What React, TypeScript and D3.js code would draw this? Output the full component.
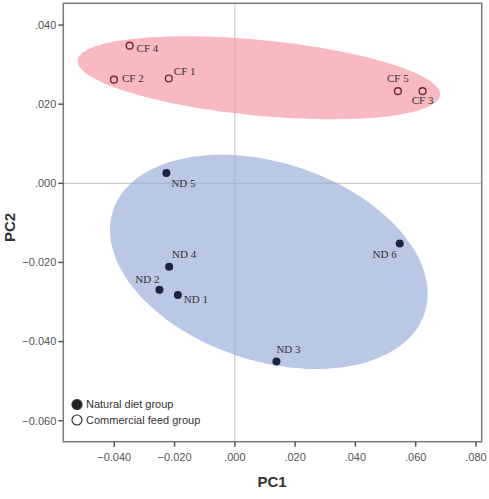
import React from 'react';
import * as d3 from 'd3';

// PCA scores for each sample
const ndNames = ['ND 1', 'ND 2', 'ND 3', 'ND 4', 'ND 5', 'ND 6'];
const ndPC1 = [-0.0189, -0.025, 0.0138, -0.0218, -0.0227, 0.0547];
const ndPC2 = [-0.0282, -0.0269, -0.045, -0.0211, 0.0026, -0.0152];

const cfNames = ['CF 1', 'CF 2', 'CF 3', 'CF 4', 'CF 5'];
const cfPC1 = [-0.0219, -0.0401, 0.0623, -0.0349, 0.0541];
const cfPC2 = [0.0265, 0.0262, 0.0233, 0.0348, 0.0233];

// group ellipses: centre plus two conjugate half-axes, in PC units
const ndEllipse = { c: [0.01128, -0.01985], u: [0.05168, -0.01295], v: [-0.01025, -0.02377] };
const cfEllipse = { c: [0.00796, 0.02668], u: [0.0601, -0.0044], v: [-0.00119, -0.00951] };

const xTicks = [-0.04, -0.02, 0, 0.02, 0.04, 0.06, 0.08];
const yTicks = [0.04, 0.02, 0, -0.02, -0.04, -0.06];

const legendItems = ['Natural diet group', 'Commercial feed group'];

// label placement relative to each point: [dx, dy, anchor]
const ndLabelPos: [number, number, string][] = [
  [6, 8, 'start'], [0, -7, 'end'], [0, -8, 'start'],
  [3, -9, 'start'], [5, 14, 'start'], [-3, 15, 'end'],
];
const cfLabelPos: [number, number, string][] = [
  [5, -3, 'start'], [8, 2, 'start'], [0, 13, 'middle'],
  [7, 6, 'start'], [0, -9, 'middle'],
];

const W = 489;
const H = 499;

const fmt = (v: number) => {
  const s = d3.format('.3f')(v);
  return s.replace(/^(-?)0\./, '$1.');
};

const App = () => {
  const x = d3.scaleLinear().domain([-0.0569, 0.0819]).range([63.3, 481.7]);
  const y = d3.scaleLinear().domain([-0.0653, 0.0455]).range([441.7, 3.3]);

  const ellipsePath = (e: { c: number[]; u: number[]; v: number[] }) => {
    const pts = d3.range(0, 361, 3).map((deg) => {
      const t = (deg * Math.PI) / 180;
      return [
        e.c[0] + e.u[0] * Math.cos(t) + e.v[0] * Math.sin(t),
        e.c[1] + e.u[1] * Math.cos(t) + e.v[1] * Math.sin(t),
      ] as [number, number];
    });
    return d3.line<[number, number]>()
      .x((d) => x(d[0]))
      .y((d) => y(d[1]))
      .curve(d3.curveCardinalClosed)(pts.slice(0, -1)) as string;
  };

  const [x0, x1] = x.range();
  const [y0, y1] = y.range();

  return (
    <div style={{ position: 'fixed', left: 0, top: 0 }}>
      <svg width={W} height={H} viewBox={`0 0 ${W} ${H}`} style={{ display: 'block', background: '#fff' }}>
        {/* zero reference lines */}
        <line x1={x(0)} x2={x(0)} y1={y1} y2={y0} stroke="#cfcfcf" strokeWidth={1.2} />
        <line x1={x0} x2={x1} y1={y(0)} y2={y(0)} stroke="#cfcfcf" strokeWidth={1.2} />

        <path d={ellipsePath(cfEllipse)} fill="#f38a96" fillOpacity={0.6} />
        <path d={ellipsePath(ndEllipse)} fill="#8ca3d5" fillOpacity={0.6} />

        {/* frame */}
        <rect x={x0} y={y1} width={x1 - x0} height={y0 - y1} fill="none" stroke="#7a7a7a" strokeWidth={1.5} />

        {/* y axis */}
        {yTicks.map((t) => (
          <g key={'y' + t}>
            <line x1={x0 - 5} x2={x0} y1={y(t)} y2={y(t)} stroke="#555" strokeWidth={1.5} />
            <text x={x0 - 7} y={y(t)} dy="0.35em" textAnchor="end"
              fontFamily="Arial, 'Liberation Sans', sans-serif" fontSize={11} fill="#555">{fmt(t)}</text>
          </g>
        ))}
        {/* x axis */}
        {xTicks.map((t) => (
          <g key={'x' + t}>
            <line x1={x(t)} x2={x(t)} y1={y0} y2={y0 + 5} stroke="#555" strokeWidth={1.5} />
            <text x={x(t)} y={y0 + 19} textAnchor="middle"
              fontFamily="Arial, 'Liberation Sans', sans-serif" fontSize={11} fill="#555">{fmt(t)}</text>
          </g>
        ))}

        <text x={272} y={487} textAnchor="middle" fontFamily="Arial, 'Liberation Sans', sans-serif"
          fontSize={15} fontWeight="bold" fill="#333">PC1</text>
        <text transform={`translate(15,${(y0 + y1) / 2 + 5}) rotate(-90)`} textAnchor="middle"
          fontFamily="Arial, 'Liberation Sans', sans-serif" fontSize={15} fontWeight="bold" fill="#333">PC2</text>

        {/* commercial feed samples */}
        {cfNames.map((n, i) => (
          <g key={n}>
            <circle cx={x(cfPC1[i])} cy={y(cfPC2[i])} r={3.4} fill="none" stroke="#6e2b30" strokeWidth={1.4} />
            <text x={x(cfPC1[i]) + cfLabelPos[i][0]} y={y(cfPC2[i]) + cfLabelPos[i][1]}
              textAnchor={cfLabelPos[i][2] as any} fontFamily="'Liberation Serif', 'Times New Roman', serif"
              fontSize={11} fill="#333">{n}</text>
          </g>
        ))}

        {/* natural diet samples */}
        {ndNames.map((n, i) => (
          <g key={n}>
            <circle cx={x(ndPC1[i])} cy={y(ndPC2[i])} r={4} fill="#1b2440" />
            <text x={x(ndPC1[i]) + ndLabelPos[i][0]} y={y(ndPC2[i]) + ndLabelPos[i][1]}
              textAnchor={ndLabelPos[i][2] as any} fontFamily="'Liberation Serif', 'Times New Roman', serif"
              fontSize={11} fill="#333">{n}</text>
          </g>
        ))}

        {/* legend */}
        {legendItems.map((label, i) => (
          <g key={label} transform={`translate(77,${404.5 + i * 15.5})`}>
            <circle r={5} fill={i === 0 ? '#222' : '#fff'} stroke="#333" strokeWidth={1.2} />
            <text x={9} dy="0.35em" fontFamily="Arial, 'Liberation Sans', sans-serif" fontSize={11} fill="#333">{label}</text>
          </g>
        ))}
      </svg>
    </div>
  );
};

export default App;
